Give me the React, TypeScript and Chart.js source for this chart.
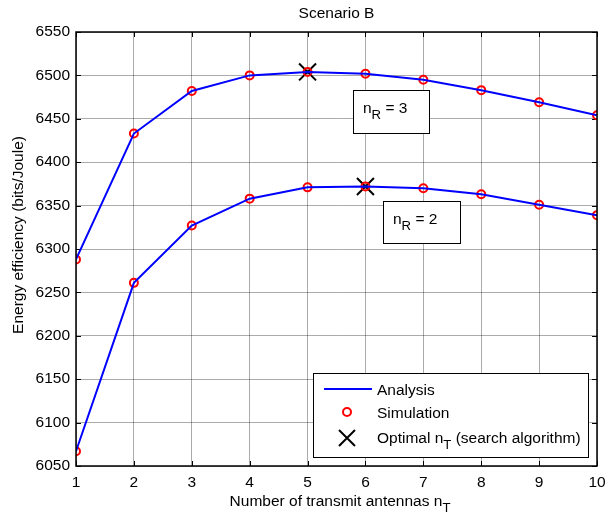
import React, { useEffect, useRef } from "react";
import { Chart, registerables } from "chart.js";

Chart.register(...registerables);

// ---- data ----
const nT = [1, 2, 3, 4, 5, 6, 7, 8, 9, 10];
const analysisNR3 = [6288, 6433, 6482, 6500, 6504, 6502, 6495, 6483, 6469, 6454];
const analysisNR2 = [6067, 6261, 6327, 6358, 6371, 6372, 6370, 6363, 6351, 6339];
const simulationNR3 = [6288, 6433, 6482, 6500, 6504, 6502, 6495, 6483, 6469, 6454];
const simulationNR2 = [6067, 6261, 6327, 6358, 6371, 6372, 6370, 6363, 6351, 6339];
const optimalNT = [5, 6];
const optimalEE = [6504, 6372];
const yMin = 6050;
const yMax = 6550;
const yStep = 50;
const xMin = 1;
const xMax = 10;

const titleText = "Scenario B";
const yLabel = "Energy efficiency (bits/Joule)";
const xLabelMain = "Number of transmit antennas n";
const xLabelSub = "T";
const legendAnalysis = "Analysis";
const legendSimulation = "Simulation";
const legendOptimalMain = "Optimal n";
const legendOptimalSub = "T";
const legendOptimalRest = " (search algorithm)";
const annotNR3 = "3";
const annotNR2 = "2";

const FONT = "'Liberation Sans', Arial, sans-serif";
const FS = 15.5;

type Part = { t: string; sub?: boolean };

function partsWidth(ctx: CanvasRenderingContext2D, parts: Part[], size: number) {
  let w = 0;
  for (const p of parts) {
    ctx.font = `${p.sub ? size * 0.85 : size}px ${FONT}`;
    w += ctx.measureText(p.t).width;
  }
  return w;
}

function drawParts(
  ctx: CanvasRenderingContext2D,
  parts: Part[],
  x: number,
  y: number,
  size: number
) {
  let cx = x;
  ctx.textBaseline = "alphabetic";
  ctx.textAlign = "left";
  for (const p of parts) {
    const s = p.sub ? size * 0.85 : size;
    ctx.font = `${s}px ${FONT}`;
    ctx.fillText(p.t, cx, p.sub ? y + size * 0.4 : y);
    cx += ctx.measureText(p.t).width;
  }
}

const decorPlugin = {
  id: "decor",
  beforeDatasetsDraw(chart: any) {
    const { ctx, chartArea: a, scales } = chart;
    ctx.save();
    ctx.strokeStyle = "#000";
    ctx.lineWidth = 1;
    for (let v = xMin; v <= xMax; v++) {
      const px = Math.round(scales.x.getPixelForValue(v)) + 0.5;
      ctx.beginPath();
      ctx.moveTo(px, a.bottom);
      ctx.lineTo(px, a.bottom - 5);
      ctx.moveTo(px, a.top);
      ctx.lineTo(px, a.top + 5);
      ctx.stroke();
    }
    for (let v = yMin; v <= yMax; v += yStep) {
      const py = Math.round(scales.y.getPixelForValue(v)) + 0.5;
      ctx.beginPath();
      ctx.moveTo(a.left, py);
      ctx.lineTo(a.left + 5, py);
      ctx.moveTo(a.right, py);
      ctx.lineTo(a.right - 5, py);
      ctx.stroke();
    }
    ctx.restore();
  },
  afterDraw(chart: any) {
    const { ctx, chartArea: a } = chart;
    ctx.save();
    ctx.strokeStyle = "#000";
    ctx.lineWidth = 1.5;
    ctx.strokeRect(a.left, a.top, a.right - a.left, a.bottom - a.top);

    ctx.fillStyle = "#000";
    // title
    ctx.font = `${FS}px ${FONT}`;
    ctx.textAlign = "center";
    ctx.textBaseline = "middle";
    ctx.fillText(titleText, (a.left + a.right) / 2, 14);

    // y label
    ctx.save();
    ctx.translate(19, 235);
    ctx.rotate(-Math.PI / 2);
    ctx.font = `${FS}px ${FONT}`;
    ctx.textAlign = "center";
    ctx.textBaseline = "middle";
    ctx.fillText(yLabel, 0, 0);
    ctx.restore();

    // x label
    const xParts = [{ t: xLabelMain }, { t: xLabelSub, sub: true }];
    const xw = partsWidth(ctx, xParts, FS);
    drawParts(ctx, xParts, 340 - xw / 2, 506, FS);

    // annotation boxes
    const drawAnnot = (x: number, y: number, w: number, h: number, val: string) => {
      ctx.fillStyle = "#fff";
      ctx.fillRect(x, y, w, h);
      ctx.strokeStyle = "#000";
      ctx.lineWidth = 1;
      ctx.strokeRect(x + 0.5, y + 0.5, w, h);
      ctx.fillStyle = "#000";
      drawParts(
        ctx,
        [{ t: "n" }, { t: "R", sub: true }, { t: " = " + val }],
        x + 10,
        y + 23,
        FS
      );
    };
    drawAnnot(353, 90, 76, 43, annotNR3);
    drawAnnot(383, 201, 77, 42, annotNR2);

    // legend
    const lx = 313, ly = 373, lw = 275, lh = 84;
    ctx.fillStyle = "#fff";
    ctx.fillRect(lx, ly, lw, lh);
    ctx.strokeStyle = "#000";
    ctx.lineWidth = 1;
    ctx.strokeRect(lx + 0.5, ly + 0.5, lw, lh);
    ctx.strokeStyle = "#0000ff";
    ctx.lineWidth = 2;
    ctx.beginPath();
    ctx.moveTo(324, 389);
    ctx.lineTo(372, 389);
    ctx.stroke();
    ctx.strokeStyle = "#ff0000";
    ctx.lineWidth = 2;
    ctx.beginPath();
    ctx.arc(347, 412, 4, 0, Math.PI * 2);
    ctx.stroke();
    ctx.strokeStyle = "#000";
    ctx.lineWidth = 2;
    ctx.beginPath();
    ctx.moveTo(339, 430);
    ctx.lineTo(355, 446);
    ctx.moveTo(355, 430);
    ctx.lineTo(339, 446);
    ctx.stroke();
    ctx.fillStyle = "#000";
    const tx = 377;
    drawParts(ctx, [{ t: legendAnalysis }], tx, 395, FS);
    drawParts(ctx, [{ t: legendSimulation }], tx, 418, FS);
    drawParts(
      ctx,
      [{ t: legendOptimalMain }, { t: legendOptimalSub, sub: true }, { t: legendOptimalRest }],
      tx,
      443,
      FS
    );
    ctx.restore();
  },
};

export default function App() {
  const ref = useRef<HTMLCanvasElement | null>(null);
  useEffect(() => {
    if (!ref.current) return;
    const pts = (ys: number[]) => nT.map((x, i) => ({ x, y: ys[i] }));
    const chart = new Chart(ref.current, {
      type: "line",
      data: {
        datasets: [
          {
            label: "Analysis nR=3",
            data: pts(analysisNR3),
            borderColor: "#0000ff",
            borderWidth: 2,
            pointRadius: 0,
            fill: false,
            tension: 0,
          },
          {
            label: "Analysis nR=2",
            data: pts(analysisNR2),
            borderColor: "#0000ff",
            borderWidth: 2,
            pointRadius: 0,
            fill: false,
            tension: 0,
          },
          {
            label: "Simulation nR=3",
            data: pts(simulationNR3),
            showLine: false,
            pointStyle: "circle",
            pointRadius: 4,
            pointBorderWidth: 2,
            pointBorderColor: "#ff0000",
            pointBackgroundColor: "rgba(0,0,0,0)",
          },
          {
            label: "Simulation nR=2",
            data: pts(simulationNR2),
            showLine: false,
            pointStyle: "circle",
            pointRadius: 4,
            pointBorderWidth: 2,
            pointBorderColor: "#ff0000",
            pointBackgroundColor: "rgba(0,0,0,0)",
          },
          {
            label: "Optimal",
            data: optimalNT.map((x, i) => ({ x, y: optimalEE[i] })),
            showLine: false,
            pointStyle: "crossRot",
            pointRadius: 12,
            pointBorderWidth: 2,
            pointBorderColor: "#000",
          },
        ],
      },
      options: {
        responsive: false,
        animation: false,
        devicePixelRatio: 1,
        layout: { padding: { top: 32, right: 17, left: 0, bottom: 0 } },
        plugins: {
          legend: { display: false },
          title: { display: false },
          tooltip: { enabled: false },
        },
        scales: {
          x: {
            type: "linear",
            min: xMin,
            max: xMax,
            afterFit: (s: any) => {
              s.height = 50;
            },
            ticks: {
              stepSize: 1,
              padding: 7,
              color: "#000",
              font: { family: FONT, size: FS },
              callback: (v: any) => String(v),
            },
            grid: { color: "rgba(0,0,0,0.33)", lineWidth: 1, drawTicks: false },
            border: { display: false },
          },
          y: {
            type: "linear",
            min: yMin,
            max: yMax,
            afterFit: (s: any) => {
              s.width = 76;
            },
            ticks: {
              stepSize: yStep,
              padding: 6,
              color: "#000",
              font: { family: FONT, size: FS },
              callback: (v: any) => String(v),
            },
            grid: { color: "rgba(0,0,0,0.33)", lineWidth: 1, drawTicks: false },
            border: { display: false },
          },
        },
      },
      plugins: [decorPlugin],
    });
    return () => chart.destroy();
  }, []);
  return (
    <div style={{ position: "fixed", left: 0, top: 0, width: 614, height: 516, background: "#fff" }}>
      <canvas ref={ref} width={614} height={516} />
    </div>
  );
}
